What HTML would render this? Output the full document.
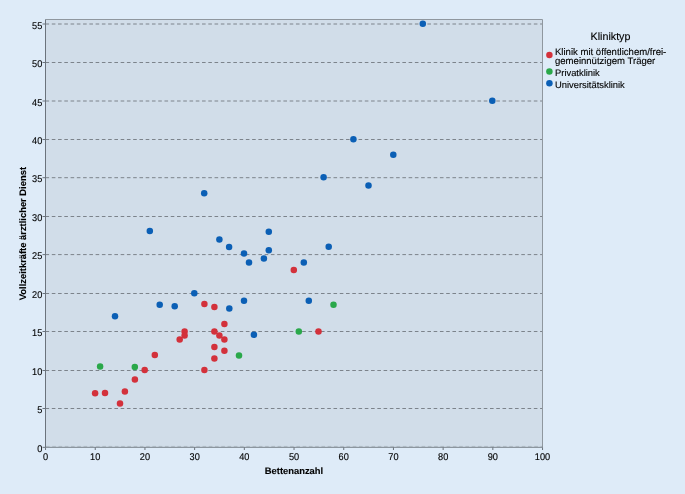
<!DOCTYPE html>
<html><head><meta charset="utf-8"><style>
html,body{margin:0;padding:0;background:#deebf8;}
svg{display:block;will-change:transform;}
text{font-family:"Liberation Sans",sans-serif;font-size:9.4px;fill:#000000;stroke:#000000;stroke-width:0.12px;text-rendering:geometricPrecision;}
text.tk{font-size:9.8px;}
text.b{font-size:9.4px;font-weight:bold;}
</style></head><body>
<svg width="685" height="494" viewBox="0 0 685 494">
<rect x="0" y="0" width="685" height="494" fill="#deebf8"/>
<rect x="45.5" y="19.5" width="497.0" height="427.85" fill="#d1dde9"/>
<line x1="45.54" y1="24.0" x2="542.0" y2="24.0" stroke="#7c838b" stroke-width="1" stroke-dasharray="3.6 2.66"/>
<line x1="45.54" y1="62.5" x2="542.0" y2="62.5" stroke="#7c838b" stroke-width="1" stroke-dasharray="3.6 2.66"/>
<line x1="45.54" y1="101.0" x2="542.0" y2="101.0" stroke="#7c838b" stroke-width="1" stroke-dasharray="3.6 2.66"/>
<line x1="45.54" y1="139.5" x2="542.0" y2="139.5" stroke="#7c838b" stroke-width="1" stroke-dasharray="3.6 2.66"/>
<line x1="45.54" y1="177.7" x2="542.0" y2="177.7" stroke="#7c838b" stroke-width="1" stroke-dasharray="3.6 2.66"/>
<line x1="45.54" y1="216.5" x2="542.0" y2="216.5" stroke="#7c838b" stroke-width="1" stroke-dasharray="3.6 2.66"/>
<line x1="45.54" y1="254.6" x2="542.0" y2="254.6" stroke="#7c838b" stroke-width="1" stroke-dasharray="3.6 2.66"/>
<line x1="45.54" y1="293.5" x2="542.0" y2="293.5" stroke="#7c838b" stroke-width="1" stroke-dasharray="3.6 2.66"/>
<line x1="45.54" y1="331.5" x2="542.0" y2="331.5" stroke="#7c838b" stroke-width="1" stroke-dasharray="3.6 2.66"/>
<line x1="45.54" y1="370.5" x2="542.0" y2="370.5" stroke="#7c838b" stroke-width="1" stroke-dasharray="3.6 2.66"/>
<line x1="45.54" y1="408.5" x2="542.0" y2="408.5" stroke="#7c838b" stroke-width="1" stroke-dasharray="3.6 2.66"/>
<polyline points="45.5,19.5 542.5,19.5 542.5,447.35" fill="none" stroke="#8f979f" stroke-width="1"/>
<line x1="45.5" y1="19.5" x2="45.5" y2="447.35" stroke="#6b737c" stroke-width="1"/>
<line x1="46" y1="446.4" x2="542.5" y2="446.4" stroke="#7c838b" stroke-opacity="0.35" stroke-width="1" stroke-dasharray="3.6 2.66"/>
<line x1="45.5" y1="447.35" x2="542.5" y2="447.35" stroke="#7f8891" stroke-width="1"/>
<line x1="42.5" y1="24.0" x2="45.5" y2="24.0" stroke="#6b737c" stroke-width="1"/>
<text class="tk" transform="translate(42.3,28.60) scale(0.94,1)" text-anchor="end">55</text>
<line x1="42.5" y1="62.5" x2="45.5" y2="62.5" stroke="#6b737c" stroke-width="1"/>
<text class="tk" transform="translate(42.3,67.10) scale(0.94,1)" text-anchor="end">50</text>
<line x1="42.5" y1="101.0" x2="45.5" y2="101.0" stroke="#6b737c" stroke-width="1"/>
<text class="tk" transform="translate(42.3,105.60) scale(0.94,1)" text-anchor="end">45</text>
<line x1="42.5" y1="139.5" x2="45.5" y2="139.5" stroke="#6b737c" stroke-width="1"/>
<text class="tk" transform="translate(42.3,144.10) scale(0.94,1)" text-anchor="end">40</text>
<line x1="42.5" y1="177.7" x2="45.5" y2="177.7" stroke="#6b737c" stroke-width="1"/>
<text class="tk" transform="translate(42.3,182.30) scale(0.94,1)" text-anchor="end">35</text>
<line x1="42.5" y1="216.5" x2="45.5" y2="216.5" stroke="#6b737c" stroke-width="1"/>
<text class="tk" transform="translate(42.3,221.10) scale(0.94,1)" text-anchor="end">30</text>
<line x1="42.5" y1="254.6" x2="45.5" y2="254.6" stroke="#6b737c" stroke-width="1"/>
<text class="tk" transform="translate(42.3,259.20) scale(0.94,1)" text-anchor="end">25</text>
<line x1="42.5" y1="293.5" x2="45.5" y2="293.5" stroke="#6b737c" stroke-width="1"/>
<text class="tk" transform="translate(42.3,298.10) scale(0.94,1)" text-anchor="end">20</text>
<line x1="42.5" y1="331.5" x2="45.5" y2="331.5" stroke="#6b737c" stroke-width="1"/>
<text class="tk" transform="translate(42.3,336.10) scale(0.94,1)" text-anchor="end">15</text>
<line x1="42.5" y1="370.5" x2="45.5" y2="370.5" stroke="#6b737c" stroke-width="1"/>
<text class="tk" transform="translate(42.3,375.10) scale(0.94,1)" text-anchor="end">10</text>
<line x1="42.5" y1="408.5" x2="45.5" y2="408.5" stroke="#6b737c" stroke-width="1"/>
<text class="tk" transform="translate(42.3,413.10) scale(0.94,1)" text-anchor="end">5</text>
<line x1="42.5" y1="447.35" x2="45.5" y2="447.35" stroke="#6b737c" stroke-width="1"/>
<text class="tk" transform="translate(42.3,451.95) scale(0.94,1)" text-anchor="end">0</text>
<line x1="45.54" y1="447.35" x2="45.54" y2="450.0" stroke="#6b737c" stroke-width="1"/>
<text class="tk" transform="translate(45.54,460.0) scale(0.94,1)" text-anchor="middle">0</text>
<line x1="95.24" y1="447.35" x2="95.24" y2="450.0" stroke="#6b737c" stroke-width="1"/>
<text class="tk" transform="translate(95.24,460.0) scale(0.94,1)" text-anchor="middle">10</text>
<line x1="144.94" y1="447.35" x2="144.94" y2="450.0" stroke="#6b737c" stroke-width="1"/>
<text class="tk" transform="translate(144.94,460.0) scale(0.94,1)" text-anchor="middle">20</text>
<line x1="194.64" y1="447.35" x2="194.64" y2="450.0" stroke="#6b737c" stroke-width="1"/>
<text class="tk" transform="translate(194.64,460.0) scale(0.94,1)" text-anchor="middle">30</text>
<line x1="244.34" y1="447.35" x2="244.34" y2="450.0" stroke="#6b737c" stroke-width="1"/>
<text class="tk" transform="translate(244.34,460.0) scale(0.94,1)" text-anchor="middle">40</text>
<line x1="294.04" y1="447.35" x2="294.04" y2="450.0" stroke="#6b737c" stroke-width="1"/>
<text class="tk" transform="translate(294.04,460.0) scale(0.94,1)" text-anchor="middle">50</text>
<line x1="343.74" y1="447.35" x2="343.74" y2="450.0" stroke="#6b737c" stroke-width="1"/>
<text class="tk" transform="translate(343.74,460.0) scale(0.94,1)" text-anchor="middle">60</text>
<line x1="393.44" y1="447.35" x2="393.44" y2="450.0" stroke="#6b737c" stroke-width="1"/>
<text class="tk" transform="translate(393.44,460.0) scale(0.94,1)" text-anchor="middle">70</text>
<line x1="443.14" y1="447.35" x2="443.14" y2="450.0" stroke="#6b737c" stroke-width="1"/>
<text class="tk" transform="translate(443.14,460.0) scale(0.94,1)" text-anchor="middle">80</text>
<line x1="492.84" y1="447.35" x2="492.84" y2="450.0" stroke="#6b737c" stroke-width="1"/>
<text class="tk" transform="translate(492.84,460.0) scale(0.94,1)" text-anchor="middle">90</text>
<line x1="542.54" y1="447.35" x2="542.54" y2="450.0" stroke="#6b737c" stroke-width="1"/>
<text class="tk" transform="translate(542.54,460.0) scale(0.94,1)" text-anchor="middle">100</text>
<text x="294" y="474.3" text-anchor="middle" class="b">Bettenanzahl</text>
<text transform="translate(26.1,233.6) rotate(-90)" text-anchor="middle" class="b">Vollzeitkräfte ärztlicher Dienst</text>
<circle cx="95.1" cy="393.2" r="3.25" fill="#d3313b"/>
<circle cx="105.0" cy="393.1" r="3.25" fill="#d3313b"/>
<circle cx="120.0" cy="403.4" r="3.25" fill="#d3313b"/>
<circle cx="124.9" cy="391.6" r="3.25" fill="#d3313b"/>
<circle cx="134.9" cy="379.4" r="3.25" fill="#d3313b"/>
<circle cx="144.7" cy="370.0" r="3.25" fill="#d3313b"/>
<circle cx="154.8" cy="354.9" r="3.25" fill="#d3313b"/>
<circle cx="179.7" cy="339.4" r="3.25" fill="#d3313b"/>
<circle cx="184.6" cy="331.5" r="3.25" fill="#d3313b"/>
<circle cx="184.6" cy="335.5" r="3.25" fill="#d3313b"/>
<circle cx="204.4" cy="304.0" r="3.25" fill="#d3313b"/>
<circle cx="204.4" cy="370.1" r="3.25" fill="#d3313b"/>
<circle cx="214.4" cy="307.0" r="3.25" fill="#d3313b"/>
<circle cx="214.4" cy="331.5" r="3.25" fill="#d3313b"/>
<circle cx="214.4" cy="347.0" r="3.25" fill="#d3313b"/>
<circle cx="214.4" cy="358.4" r="3.25" fill="#d3313b"/>
<circle cx="219.4" cy="335.5" r="3.25" fill="#d3313b"/>
<circle cx="224.4" cy="323.9" r="3.25" fill="#d3313b"/>
<circle cx="224.4" cy="339.4" r="3.25" fill="#d3313b"/>
<circle cx="224.4" cy="350.8" r="3.25" fill="#d3313b"/>
<circle cx="293.8" cy="270.0" r="3.25" fill="#d3313b"/>
<circle cx="318.5" cy="331.6" r="3.25" fill="#d3313b"/>
<circle cx="100.1" cy="366.6" r="3.25" fill="#2aa84a"/>
<circle cx="134.8" cy="367.0" r="3.25" fill="#2aa84a"/>
<circle cx="239.0" cy="355.4" r="3.25" fill="#2aa84a"/>
<circle cx="298.8" cy="331.6" r="3.25" fill="#2aa84a"/>
<circle cx="333.5" cy="304.7" r="3.25" fill="#2aa84a"/>
<circle cx="115.0" cy="316.3" r="3.25" fill="#0b5fb5"/>
<circle cx="149.8" cy="231.0" r="3.25" fill="#0b5fb5"/>
<circle cx="159.7" cy="304.8" r="3.25" fill="#0b5fb5"/>
<circle cx="174.7" cy="306.2" r="3.25" fill="#0b5fb5"/>
<circle cx="194.3" cy="293.3" r="3.25" fill="#0b5fb5"/>
<circle cx="204.2" cy="193.2" r="3.25" fill="#0b5fb5"/>
<circle cx="219.4" cy="239.4" r="3.25" fill="#0b5fb5"/>
<circle cx="229.1" cy="246.9" r="3.25" fill="#0b5fb5"/>
<circle cx="229.3" cy="308.6" r="3.25" fill="#0b5fb5"/>
<circle cx="244.0" cy="253.4" r="3.25" fill="#0b5fb5"/>
<circle cx="244.0" cy="300.8" r="3.25" fill="#0b5fb5"/>
<circle cx="249.0" cy="262.5" r="3.25" fill="#0b5fb5"/>
<circle cx="253.9" cy="334.8" r="3.25" fill="#0b5fb5"/>
<circle cx="263.9" cy="258.4" r="3.25" fill="#0b5fb5"/>
<circle cx="268.8" cy="231.7" r="3.25" fill="#0b5fb5"/>
<circle cx="268.8" cy="250.3" r="3.25" fill="#0b5fb5"/>
<circle cx="303.8" cy="262.5" r="3.25" fill="#0b5fb5"/>
<circle cx="308.8" cy="300.8" r="3.25" fill="#0b5fb5"/>
<circle cx="323.6" cy="177.3" r="3.25" fill="#0b5fb5"/>
<circle cx="328.7" cy="246.8" r="3.25" fill="#0b5fb5"/>
<circle cx="353.4" cy="139.3" r="3.25" fill="#0b5fb5"/>
<circle cx="368.5" cy="185.5" r="3.25" fill="#0b5fb5"/>
<circle cx="393.3" cy="154.7" r="3.25" fill="#0b5fb5"/>
<circle cx="422.8" cy="23.8" r="3.25" fill="#0b5fb5"/>
<circle cx="492.3" cy="100.8" r="3.25" fill="#0b5fb5"/>
<text x="610.5" y="39.8" text-anchor="middle" style="font-size:10.7px">Kliniktyp</text>
<circle cx="549.4" cy="54.9" r="3.25" fill="#d3313b"/>
<circle cx="549.4" cy="71.5" r="3.25" fill="#2aa84a"/>
<circle cx="549.4" cy="83.3" r="3.25" fill="#0b5fb5"/>
<text x="555" y="55.0" style="font-size:9.55px">Klinik mit öffentlichem/frei-</text>
<text x="555" y="63.5" style="font-size:9.55px">gemeinnützigem Träger</text>
<text x="555" y="75.7">Privatklinik</text>
<text x="555" y="87.5">Universitätsklinik</text>
</svg>
</body></html>
